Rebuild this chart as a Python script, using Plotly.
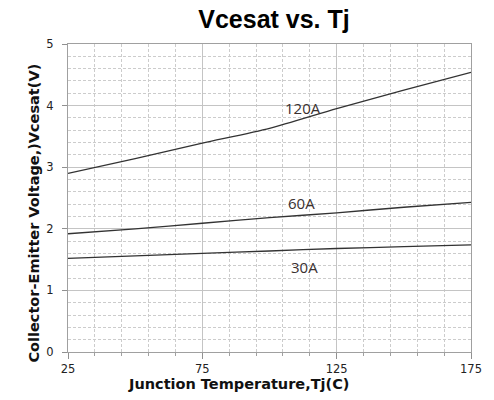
import plotly.graph_objects as go

tj = [25, 50, 75, 100, 125, 150, 175]
vce_120a = [2.90, 3.14, 3.39, 3.63, 3.95, 4.25, 4.54]
vce_60a = [1.92, 2.00, 2.09, 2.18, 2.26, 2.35, 2.43]
vce_30a = [1.52, 1.56, 1.60, 1.64, 1.68, 1.71, 1.74]

series_names = ["120A", "60A", "30A"]
label_x = [112.5, 112, 113]
label_y = [3.96, 2.42, 1.38]

fig = go.Figure()
for name, vals in zip(series_names, [vce_120a, vce_60a, vce_30a]):
    fig.add_trace(go.Scatter(x=tj, y=vals, mode="lines", name=name,
                             line=dict(color="#333333", width=1.3,
                                       shape="spline", smoothing=0.7)))

for name, lx, ly in zip(series_names, label_x, label_y):
    fig.add_annotation(x=lx, y=ly, text=name, showarrow=False,
                       font=dict(family="Open Sans", size=15, color="#3a3030"))

fig.add_annotation(x=(241 - 68) / 408, y=(352 - 384) / 308, xref="paper", yref="paper",
                   yanchor="middle",
                   text="<b>Junction Temperature,Tj(C)</b>", showarrow=False,
                   font=dict(family="DejaVu Sans", size=14.5, color="#111111"))
fig.add_annotation(x=(23 - 68) / 408, y=(352 - 213) / 308, xref="paper", yref="paper",
                   textangle=-90,
                   text="<b>Collector-Emitter Voltage,)Vcesat(V)</b>", showarrow=False,
                   font=dict(family="DejaVu Sans", size=14.5, color="#111111"))

fig.update_layout(
    title=dict(text="<b>Vcesat vs. Tj</b>", x=274 / 494, xanchor="center",
               y=1 - 19 / 400, yanchor="middle",
               font=dict(family="Liberation Sans", size=25, color="#000000")),
    xaxis=dict(range=[25, 175], tick0=25, dtick=50, showgrid=True,
               gridcolor="#c4c4c4", gridwidth=1,
               showline=True, linecolor="#a0a0a0", mirror=True,
               ticks="outside", ticklen=6, tickcolor="#909090",
               tickfont=dict(family="DejaVu Sans", size=11.5, color="#222222"),
               minor=dict(tick0=25, dtick=10, showgrid=True, griddash="3px,2px",
                          gridcolor="#cccccc", gridwidth=1,
                          ticks="outside", ticklen=3, tickcolor="#a0a0a0"),
               zeroline=False),
    yaxis=dict(range=[0, 5], tick0=0, dtick=1, showgrid=True,
               gridcolor="#c4c4c4", gridwidth=1,
               showline=True, linecolor="#a0a0a0", mirror=True,
               ticks="outside", ticklen=5, tickcolor="#909090",
               ticklabelstandoff=6,
               tickfont=dict(family="DejaVu Sans", size=11.5, color="#222222"),
               minor=dict(dtick=0.2, showgrid=True, griddash="3px,2px",
                          gridcolor="#cccccc", gridwidth=1),
               zeroline=False),
    plot_bgcolor="#ffffff",
    paper_bgcolor="#ffffff",
    width=494, height=400,
    margin=dict(l=68, r=18, t=44, b=48),
    showlegend=False)

fig.write_html("out.html", config={"displayModeBar": False},
               post_script="document.body.style.margin='0px';")
